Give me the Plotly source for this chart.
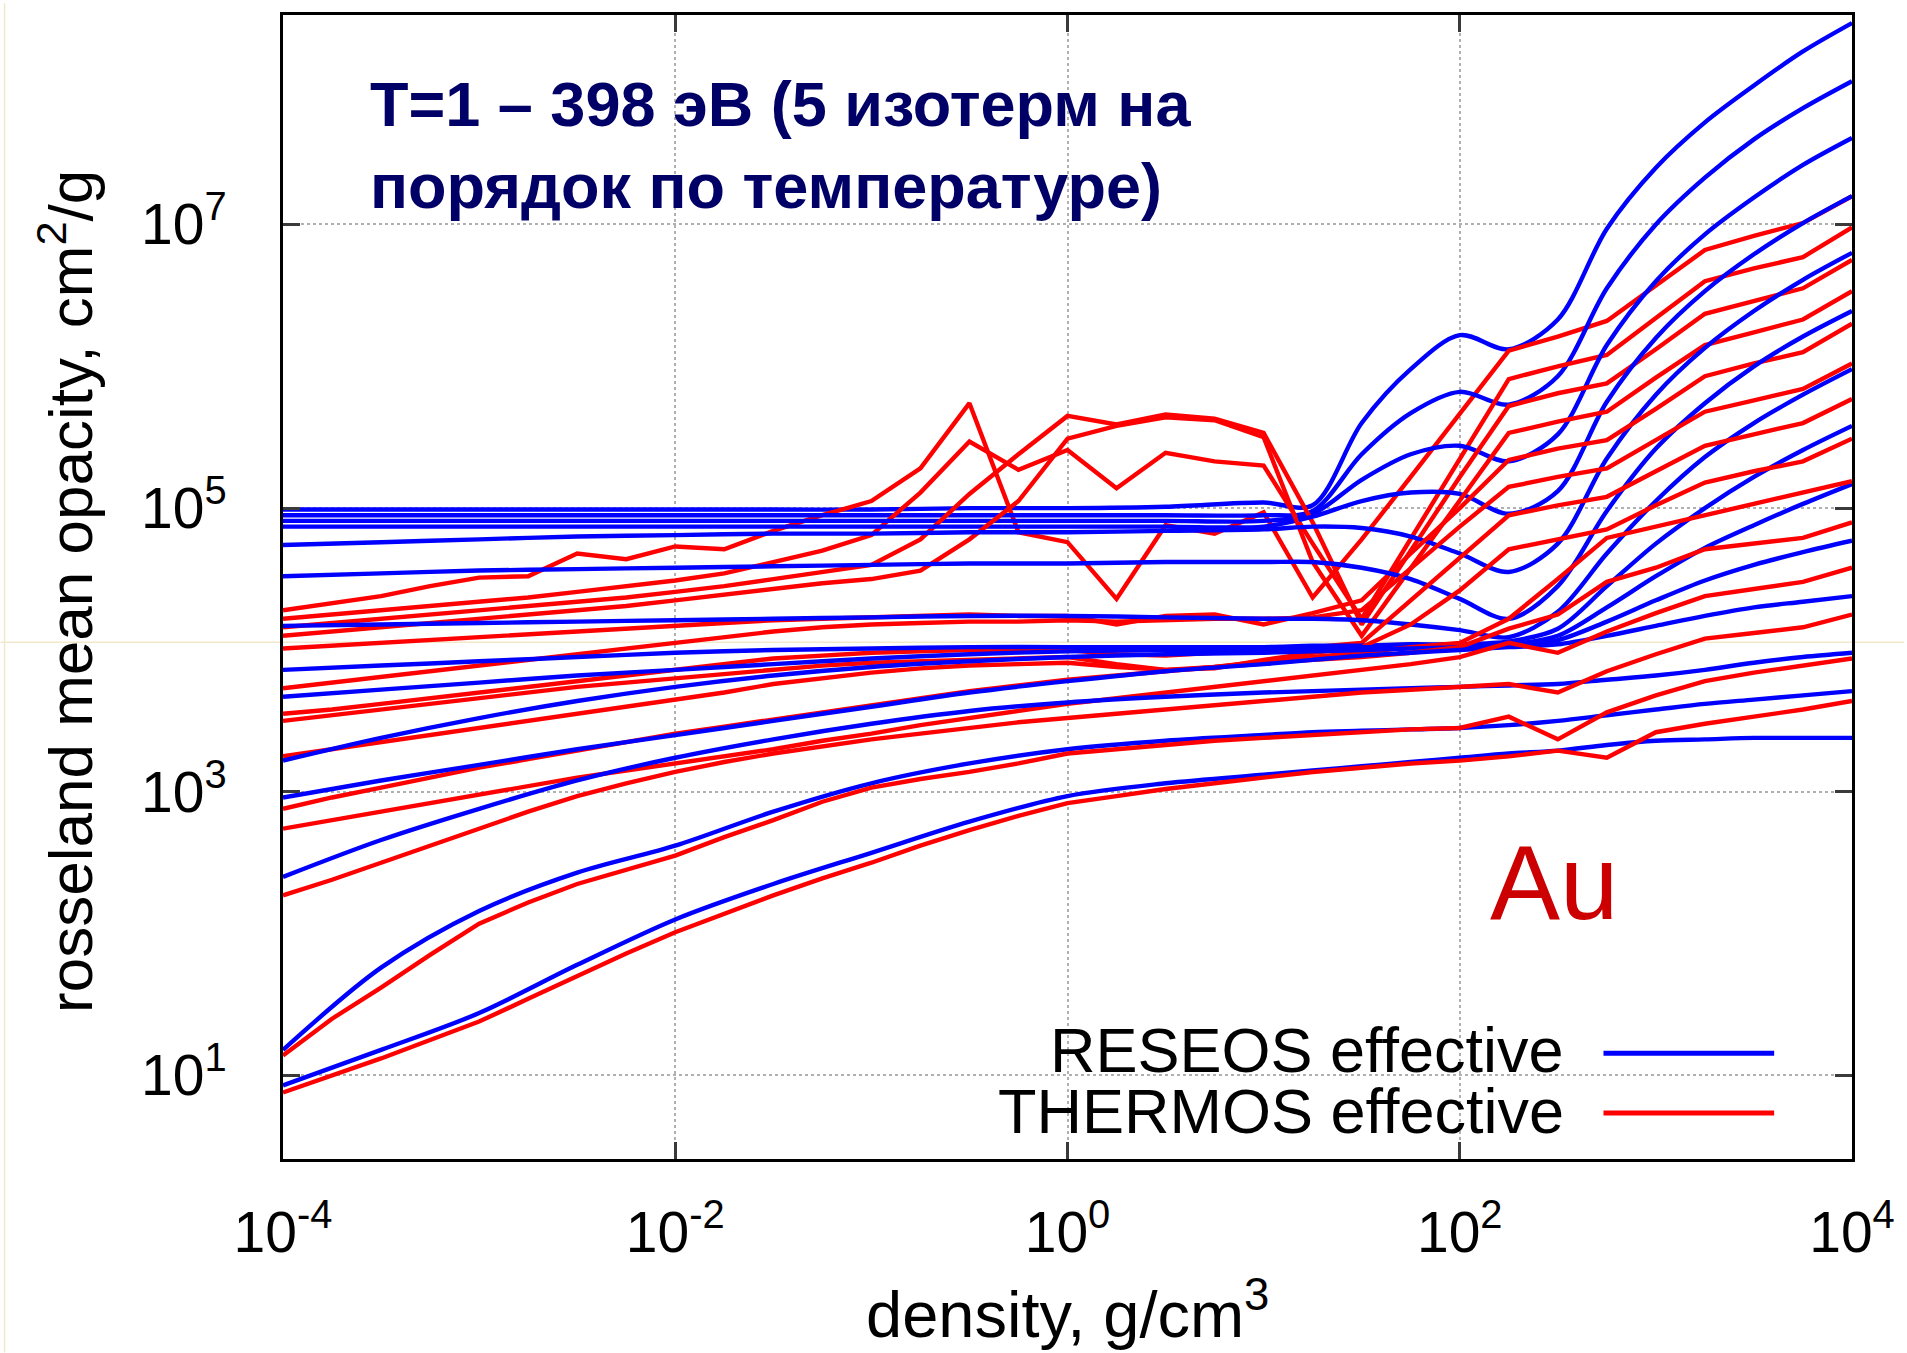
import plotly.graph_objects as go

# ---------------- data (log10 values) ----------------
# density grids, log10(g/cm^3)
lg_rho_reseos = [-4, -3.5, -3, -2.5, -2, -1.5, -1, -0.5, 0, 0.5, 1, 1.25, 1.5, 1.75,
                 2, 2.25, 2.5, 2.75, 3, 3.25, 3.5, 3.75, 4]
lg_rho_thermos = [-4, -3.75, -3.5, -3.25, -3, -2.75, -2.5, -2.25, -2, -1.75, -1.5, -1.25,
                  -1, -0.75, -0.5, -0.25, 0, 0.25, 0.5, 0.75, 1, 1.25, 1.5, 1.75, 2,
                  2.25, 2.5, 2.75, 3, 3.25, 3.5, 3.75, 4]

# RESEOS effective, log10(kappa), one list per isotherm (coldest first)
reseos_T01 = [4.99, 4.99, 4.99, 4.99, 4.99, 4.99, 4.99, 5.00, 5.00, 5.01, 5.04, 5.02, 5.60, 5.98, 6.22, 6.12, 6.33, 6.97, 7.40, 7.72, 7.98, 8.22, 8.42]
reseos_T02 = [4.95, 4.95, 4.95, 4.95, 4.95, 4.95, 4.95, 4.95, 4.95, 4.95, 4.95, 4.98, 5.38, 5.67, 5.82, 5.73, 5.93, 6.55, 7.00, 7.33, 7.60, 7.82, 8.01]
reseos_T03 = [4.91, 4.91, 4.91, 4.91, 4.91, 4.91, 4.91, 4.91, 4.91, 4.91, 4.91, 4.96, 5.20, 5.38, 5.44, 5.33, 5.52, 6.15, 6.60, 6.93, 7.19, 7.42, 7.61]
reseos_T04 = [4.87, 4.87, 4.87, 4.87, 4.87, 4.87, 4.87, 4.87, 4.87, 4.87, 4.87, 4.94, 5.05, 5.11, 5.10, 4.96, 5.12, 5.75, 6.20, 6.53, 6.79, 7.01, 7.20]
reseos_T05 = [4.74, 4.76, 4.78, 4.80, 4.81, 4.82, 4.82, 4.83, 4.83, 4.84, 4.85, 4.87, 4.86, 4.80, 4.68, 4.55, 4.75, 5.35, 5.80, 6.13, 6.39, 6.61, 6.80]
reseos_T06 = [4.52, 4.54, 4.56, 4.57, 4.58, 4.59, 4.60, 4.61, 4.61, 4.62, 4.62, 4.62, 4.58, 4.50, 4.36, 4.22, 4.45, 4.98, 5.42, 5.74, 6.00, 6.21, 6.39]
reseos_T07 = [4.17, 4.18, 4.19, 4.20, 4.21, 4.22, 4.23, 4.24, 4.24, 4.23, 4.22, 4.22, 4.21, 4.18, 4.14, 4.09, 4.27, 4.68, 5.05, 5.36, 5.60, 5.80, 5.98]
reseos_T08 = [3.86, 3.89, 3.92, 3.95, 3.98, 4.00, 4.01, 4.02, 4.02, 4.02, 4.02, 4.03, 4.03, 4.04, 4.04, 4.06, 4.15, 4.45, 4.75, 5.00, 5.22, 5.41, 5.58]
reseos_T09 = [3.67, 3.72, 3.77, 3.82, 3.86, 3.90, 3.94, 3.97, 3.99, 4.00, 4.00, 4.01, 4.02, 4.02, 4.03, 4.04, 4.10, 4.30, 4.52, 4.72, 4.88, 5.03, 5.17]
reseos_T10 = [3.22, 3.38, 3.52, 3.64, 3.74, 3.82, 3.88, 3.92, 3.95, 3.97, 3.98, 3.99, 4.00, 4.01, 4.02, 4.03, 4.07, 4.20, 4.35, 4.49, 4.60, 4.69, 4.77]
reseos_T11 = [2.96, 3.08, 3.19, 3.30, 3.40, 3.50, 3.60, 3.70, 3.78, 3.85, 3.90, 3.93, 3.96, 3.98, 4.00, 4.02, 4.04, 4.10, 4.17, 4.24, 4.30, 4.34, 4.38]
reseos_T12 = [2.40, 2.66, 2.88, 3.08, 3.24, 3.37, 3.48, 3.57, 3.63, 3.67, 3.70, 3.71, 3.72, 3.73, 3.74, 3.75, 3.76, 3.79, 3.82, 3.86, 3.91, 3.95, 3.98]
reseos_T13 = [1.18, 1.76, 2.16, 2.43, 2.62, 2.86, 3.06, 3.20, 3.30, 3.36, 3.40, 3.42, 3.43, 3.44, 3.45, 3.47, 3.50, 3.54, 3.58, 3.62, 3.65, 3.68, 3.71]
reseos_T14 = [0.93, 1.18, 1.44, 1.78, 2.10, 2.35, 2.57, 2.79, 2.97, 3.06, 3.12, 3.15, 3.18, 3.21, 3.24, 3.27, 3.29, 3.33, 3.36, 3.37, 3.38, 3.38, 3.38]

# THERMOS effective, log10(kappa)
thermos_T01 = [4.28, 4.33, 4.38, 4.45, 4.51, 4.52, 4.68, 4.64, 4.73, 4.71, 4.84, 4.95, 5.05, 5.28, 5.74, 4.83, 4.76, 4.36, 4.88, 4.82, 4.97, 4.37, 4.78, 5.22, 5.66, 6.11, 6.21, 6.32, 6.57, 6.82, 6.92, 7.01, 7.20]
thermos_T02 = [4.22, 4.25, 4.28, 4.31, 4.34, 4.37, 4.41, 4.45, 4.49, 4.54, 4.62, 4.70, 4.81, 5.11, 5.47, 5.27, 5.41, 5.14, 5.39, 5.33, 5.30, 4.75, 4.22, 4.78, 5.35, 5.91, 6.00, 6.08, 6.34, 6.60, 6.69, 6.77, 6.98]
thermos_T03 = [4.16, 4.19, 4.22, 4.25, 4.28, 4.31, 4.34, 4.37, 4.41, 4.45, 4.50, 4.55, 4.60, 4.78, 5.10, 5.38, 5.65, 5.59, 5.66, 5.63, 5.53, 4.90, 4.18, 4.70, 5.22, 5.72, 5.81, 5.88, 6.12, 6.37, 6.46, 6.55, 6.75]
thermos_T04 = [4.10, 4.13, 4.16, 4.19, 4.22, 4.25, 4.28, 4.31, 4.35, 4.39, 4.43, 4.47, 4.50, 4.56, 4.78, 5.05, 5.49, 5.58, 5.64, 5.62, 5.50, 4.62, 4.10, 4.58, 5.05, 5.53, 5.61, 5.68, 5.92, 6.15, 6.24, 6.33, 6.53]
thermos_T05 = [4.01, 4.03, 4.05, 4.07, 4.09, 4.11, 4.13, 4.15, 4.17, 4.19, 4.21, 4.22, 4.23, 4.24, 4.25, 4.24, 4.24, 4.18, 4.24, 4.25, 4.18, 4.26, 4.35, 4.68, 5.00, 5.34, 5.42, 5.48, 5.70, 5.93, 6.02, 6.10, 6.30]
thermos_T06 = [3.73, 3.77, 3.81, 3.85, 3.89, 3.93, 3.97, 4.01, 4.05, 4.09, 4.13, 4.16, 4.18, 4.19, 4.20, 4.20, 4.21, 4.20, 4.21, 4.22, 4.22, 4.23, 4.28, 4.58, 4.87, 5.15, 5.22, 5.28, 5.48, 5.68, 5.76, 5.84, 6.02]
thermos_T07 = [3.55, 3.58, 3.62, 3.66, 3.70, 3.74, 3.78, 3.82, 3.86, 3.90, 3.94, 3.96, 3.98, 3.99, 4.00, 4.00, 4.00, 3.97, 3.96, 3.98, 4.00, 4.02, 4.05, 4.35, 4.65, 4.95, 5.02, 5.08, 5.26, 5.44, 5.52, 5.60, 5.77]
thermos_T08 = [3.50, 3.54, 3.58, 3.62, 3.66, 3.70, 3.74, 3.77, 3.80, 3.83, 3.86, 3.89, 3.91, 3.92, 3.93, 3.94, 3.95, 3.90, 3.86, 3.87, 3.93, 3.98, 4.02, 4.18, 4.42, 4.71, 4.78, 4.85, 5.02, 5.18, 5.26, 5.33, 5.49]
thermos_T09 = [3.25, 3.30, 3.35, 3.40, 3.45, 3.50, 3.55, 3.60, 3.65, 3.70, 3.76, 3.80, 3.84, 3.87, 3.89, 3.90, 3.91, 3.88, 3.86, 3.88, 3.92, 3.95, 3.98, 4.02, 4.05, 4.22, 4.50, 4.79, 4.87, 4.95, 5.03, 5.11, 5.19]
thermos_T10 = [2.88, 2.96, 3.03, 3.10, 3.17, 3.23, 3.29, 3.35, 3.41, 3.46, 3.51, 3.56, 3.61, 3.66, 3.71, 3.75, 3.79, 3.82, 3.85, 3.88, 3.91, 3.93, 3.95, 3.98, 4.02, 4.15, 4.25, 4.48, 4.58, 4.71, 4.75, 4.79, 4.90]
thermos_T11 = [2.74, 2.80, 2.86, 2.92, 2.98, 3.04, 3.10, 3.15, 3.20, 3.25, 3.30, 3.36, 3.41, 3.47, 3.52, 3.57, 3.62, 3.66, 3.70, 3.74, 3.78, 3.82, 3.86, 3.90, 3.95, 4.05, 3.98, 4.13, 4.26, 4.38, 4.43, 4.48, 4.58]
thermos_T12 = [2.27, 2.38, 2.50, 2.62, 2.74, 2.86, 2.97, 3.06, 3.14, 3.21, 3.27, 3.32, 3.37, 3.41, 3.45, 3.49, 3.52, 3.55, 3.58, 3.61, 3.64, 3.67, 3.70, 3.72, 3.74, 3.76, 3.70, 3.85, 3.97, 4.08, 4.12, 4.16, 4.25]
thermos_T13 = [1.14, 1.40, 1.62, 1.85, 2.07, 2.22, 2.35, 2.45, 2.55, 2.68, 2.80, 2.93, 3.03, 3.09, 3.14, 3.20, 3.27, 3.30, 3.33, 3.36, 3.38, 3.40, 3.42, 3.44, 3.45, 3.53, 3.37, 3.56, 3.68, 3.78, 3.84, 3.89, 3.94]
thermos_T14 = [0.88, 1.00, 1.12, 1.25, 1.38, 1.54, 1.70, 1.86, 2.01, 2.14, 2.27, 2.39, 2.50, 2.62, 2.73, 2.83, 2.92, 2.97, 3.02, 3.06, 3.10, 3.14, 3.17, 3.20, 3.22, 3.25, 3.29, 3.24, 3.42, 3.48, 3.53, 3.58, 3.64]

reseos_curves = [reseos_T01, reseos_T02, reseos_T03, reseos_T04, reseos_T05, reseos_T06, reseos_T07,
                 reseos_T08, reseos_T09, reseos_T10, reseos_T11, reseos_T12, reseos_T13, reseos_T14]
thermos_curves = [thermos_T01, thermos_T02, thermos_T03, thermos_T04, thermos_T05, thermos_T06, thermos_T07,
                  thermos_T08, thermos_T09, thermos_T10, thermos_T11, thermos_T12, thermos_T13, thermos_T14]

x_tick_exp = [-4, -2, 0, 2, 4]
y_tick_exp = [1, 3, 5, 7]

title_text = "T=1 – 398 эВ (5 изотерм на<br>порядок по температуре)"
legend_names = ["RESEOS effective", "THERMOS effective"]
element_label = "Au"

# ---------------- figure ----------------
BLUE = "#0000ff"
RED = "#ff0000"
FONT = "Liberation Sans, Arial, Helvetica, sans-serif"

W, H = 1907, 1353
L, R, T, B = 283, 52, 12, 194
PW, PH = W - L - R, H - T - B


def px(X):
    return (X - L) / PW


def py(Y):
    return (H - B - Y) / PH


fig = go.Figure()
rho_b = [10 ** v for v in lg_rho_reseos]
rho_t = [10 ** v for v in lg_rho_thermos]
for kb, kt in zip(reseos_curves, thermos_curves):
    fig.add_trace(go.Scatter(x=rho_b, y=[10 ** v for v in kb], mode="lines",
                             line=dict(color=BLUE, width=4.4, shape="spline", smoothing=0.9),
                             showlegend=False, hoverinfo="skip"))
    fig.add_trace(go.Scatter(x=rho_t, y=[10 ** v for v in kt], mode="lines",
                             line=dict(color=RED, width=4.4),
                             showlegend=False, hoverinfo="skip"))

axis_common = dict(
    type="log", showline=True, linecolor="black", linewidth=3, mirror="ticks",
    ticks="inside", ticklen=17, tickwidth=3, tickcolor="#3a3a3a",
    showgrid=True, gridcolor="#b0b0b0", gridwidth=2, griddash="dot",
    zeroline=False, tickfont=dict(family=FONT, size=57, color="black"),
)

fig.update_xaxes(range=[-4, 4], tickvals=[10 ** e for e in x_tick_exp],
                 ticktext=[f"10<sup>{e}</sup>" for e in x_tick_exp],
                 ticklabelstandoff=22, **axis_common)
fig.update_yaxes(range=[0.411, 8.477], tickvals=[10 ** e for e in y_tick_exp],
                 ticktext=[f"10<sup>{e}</sup>" for e in y_tick_exp],
                 ticklabelstandoff=42, **axis_common)

ann = []
ann.append(dict(text=f"<b>{title_text}</b>", x=px(368), y=py(64), xref="paper", yref="paper",
                xanchor="left", yanchor="top", align="left", showarrow=False,
                font=dict(family=FONT, size=63, color="#000066")))
ann.append(dict(text=element_label, x=px(1490), y=py(882), xref="paper", yref="paper",
                xanchor="left", yanchor="middle", showarrow=False,
                font=dict(family=FONT, size=105, color="#cc0000")))
ann.append(dict(text=legend_names[0], x=px(1568), y=py(1050), xref="paper", yref="paper",
                xanchor="right", yanchor="middle", showarrow=False,
                font=dict(family=FONT, size=63, color="black")))
ann.append(dict(text=legend_names[1], x=px(1568), y=py(1111), xref="paper", yref="paper",
                xanchor="right", yanchor="middle", showarrow=False,
                font=dict(family=FONT, size=63, color="black")))
ann.append(dict(text="density, g/cm<sup>3</sup>", x=px(1069), y=py(1310), xref="paper", yref="paper",
                xanchor="center", yanchor="middle", showarrow=False,
                font=dict(family=FONT, size=65, color="black")))
ann.append(dict(text="rosseland mean opacity, cm<sup>2</sup>/g", x=px(66), y=py(590),
                xref="paper", yref="paper", xanchor="center", yanchor="middle",
                textangle=-90, showarrow=False,
                font=dict(family=FONT, size=62, color="black")))

shapes = [
    # faint slide artefacts visible in the original image
    dict(type="line", xref="paper", yref="paper", x0=px(0), x1=px(W), y0=py(641), y1=py(641),
         line=dict(color="#f2e8cc", width=1.5), layer="below"),
    dict(type="line", xref="paper", yref="paper", x0=px(4), x1=px(4), y0=py(0), y1=py(H),
         line=dict(color="#f2e8cc", width=1.5), layer="below"),
    # legend keys
    dict(type="line", xref="paper", yref="paper", x0=px(1606), x1=px(1777), y0=py(1053), y1=py(1053),
         line=dict(color=BLUE, width=5)),
    dict(type="line", xref="paper", yref="paper", x0=px(1606), x1=px(1777), y0=py(1113), y1=py(1113),
         line=dict(color=RED, width=5)),
]

fig.update_layout(width=W, height=H, autosize=False,
                  margin=dict(l=L, r=R, t=T, b=B, pad=0),
                  paper_bgcolor="white", plot_bgcolor="white",
                  annotations=ann, shapes=shapes, showlegend=False)

fig.write_html("out.html")
